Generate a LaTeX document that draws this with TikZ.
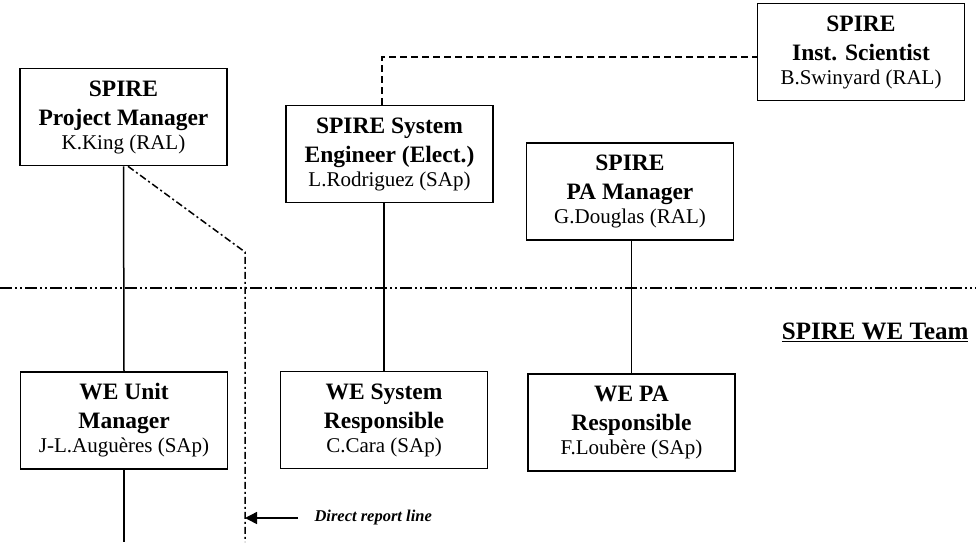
\documentclass[tikz,border=0pt]{standalone}
\usepackage{fontspec}
\setmainfont{Liberation Serif}
\usetikzlibrary{arrows.meta}
\tikzset{
  orgbox/.style={draw, line width=1.6pt, minimum width=207pt, minimum height=97pt,
    inner sep=0pt, align=center, font=\fontsize{23.5}{29}\selectfont\bfseries},
  link/.style={line width=1.5pt},
  report/.style={line width=1.5pt, dash pattern=on 7pt off 3pt on 2pt off 3pt},
  ddot/.style={line width=1.5pt, dash pattern=on 12pt off 3pt on 2pt off 3pt on 2pt off 3pt},
  sci/.style={line width=1.5pt, dash pattern=on 7pt off 4pt},
}
\newcommand{\who}[1]{{\fontsize{21}{24}\selectfont\mdseries #1}}
\begin{document}
\begin{tikzpicture}[x=1pt,y=-1pt]
\useasboundingbox (0,0) rectangle (976,542);
\node[orgbox] (pm) at (123.5,117) {SPIRE\\Project Manager\\[-5pt]\who{K.King (RAL)}};
\node[orgbox] (se) at (389.5,154) {SPIRE System\\Engineer (Elect.)\\[-5pt]\who{L.Rodriguez (SAp)}};
\node[orgbox] (pa) at (630,191.5) {SPIRE\\PA Manager\\[-5pt]\who{G.Douglas (RAL)}};
\node[orgbox] (is) at (861,52) {SPIRE\\Inst. Scientist\\[-5pt]\who{B.Swinyard (RAL)}};
\node[orgbox] (wu) at (124,420.5) {WE Unit\\Manager\\[-5pt]\who{J-L.Auguères (SAp)}};
\node[orgbox] (ws) at (384,420) {WE System\\Responsible\\[-5pt]\who{C.Cara (SAp)}};
\node[orgbox] (wp) at (631.5,422.5) {WE PA\\Responsible\\[-5pt]\who{F.Loubère (SAp)}};
\node[anchor=east, font=\fontsize{25}{28}\selectfont\bfseries] (team) at (972,332) {\underline{SPIRE WE Team}};
% separator
\coordinate (sl) at (0,288);
\coordinate (sr) at (976,288);
\draw[ddot] (sl) -- (sr);
% solid lines
\coordinate (wubot) at (124,542);
\draw[link] (pm.south) -- (wu.north);
\draw[link] (wu.south) -- (wubot);
\draw[link] (ws.north) -- (ws.north |- se.south);
\draw[link] (wp.north) -- (wp.north |- pa.south);
% dashed to scientist
\coordinate (sebend) at (382,57);
\draw[sci] ([xshift=-7.5pt]se.north) -- (sebend) -- (sebend -| is.west);
% direct report line
\coordinate (rbend) at (245,252);
\coordinate (rbot) at (245,542);
\draw[report] ([xshift=4.5pt]pm.south) -- (rbend) -- (rbot);
% legend
\coordinate (atail) at (298,518);
\coordinate (ahead) at (245,518);
\draw[link, -{Triangle[length=12pt,width=12pt]}] (atail) -- (ahead);
\node[anchor=west, font=\fontsize{16.5}{19}\selectfont\itshape\bfseries] (lgd) at (311,518) {Direct report line};
\end{tikzpicture}
\end{document}
